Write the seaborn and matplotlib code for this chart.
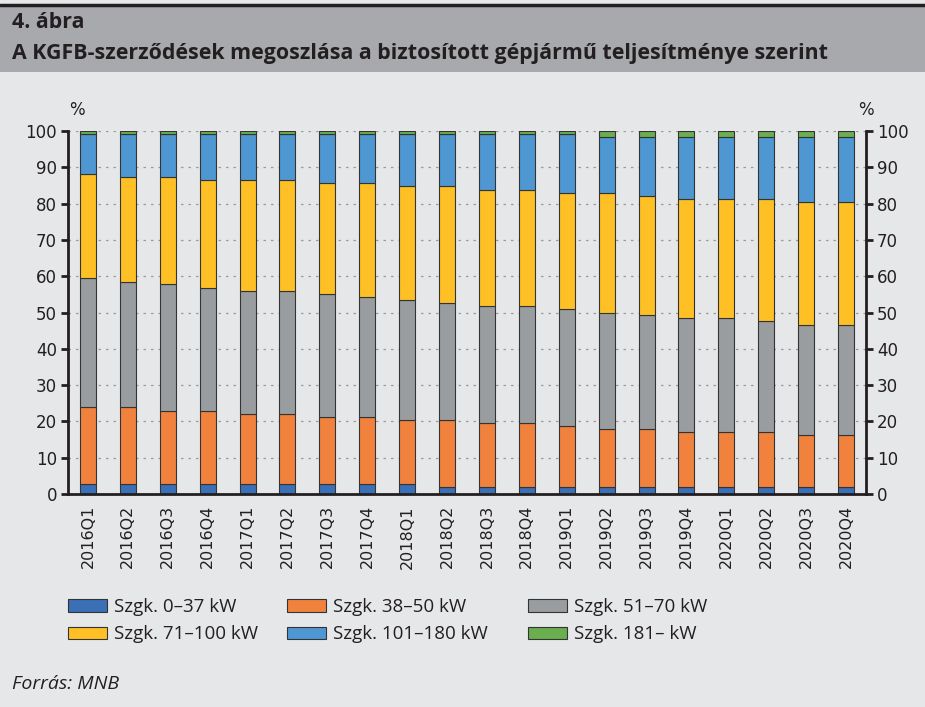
import numpy as np
import pandas as pd
import matplotlib
matplotlib.use("Agg")
import matplotlib.pyplot as plt
import seaborn as sns
from matplotlib.patches import Patch, Rectangle
from matplotlib.lines import Line2D

# Adatok (százalék)
quarters = ["2016Q1", "2016Q2", "2016Q3", "2016Q4", "2017Q1", "2017Q2", "2017Q3",
            "2017Q4", "2018Q1", "2018Q2", "2018Q3", "2018Q4", "2019Q1", "2019Q2",
            "2019Q3", "2019Q4", "2020Q1", "2020Q2", "2020Q3", "2020Q4"]
kw_0_37 = [2.7, 2.7, 2.7, 2.7, 2.7, 2.7, 2.7, 2.7, 2.7, 1.8,
           1.8, 1.8, 1.8, 1.8, 1.8, 1.8, 1.8, 1.8, 1.8, 1.8]
kw_38_50 = [21.2, 21.2, 20.3, 20.3, 19.4, 19.4, 18.5, 18.5, 17.7, 18.6,
            17.8, 17.8, 16.9, 16.0, 16.0, 15.2, 15.2, 15.2, 14.4, 14.4]
kw_51_70 = [35.5, 34.6, 34.8, 33.7, 33.7, 33.7, 33.9, 33.0, 33.0, 32.2,
            32.1, 32.1, 32.2, 32.2, 31.4, 31.4, 31.4, 30.6, 30.4, 30.4]
kw_71_100 = [28.8, 28.7, 29.4, 29.7, 30.6, 30.6, 30.5, 31.4, 31.4, 32.2,
             32.1, 32.1, 32.1, 33.0, 32.9, 32.9, 32.9, 33.7, 33.8, 33.8]
kw_101_180 = [10.9, 11.9, 11.9, 12.7, 12.7, 12.7, 13.5, 13.5, 14.3, 14.3,
              15.3, 15.3, 16.1, 15.3, 16.2, 17.0, 17.0, 17.0, 17.9, 17.9]
kw_181 = [0.9, 0.9, 0.9, 0.9, 0.9, 0.9, 0.9, 0.9, 0.9, 0.9,
          0.9, 0.9, 0.9, 1.7, 1.7, 1.7, 1.7, 1.7, 1.7, 1.7]

series = [
    ("Szgk. 0–37 kW", kw_0_37, "#3b6fb6"),
    ("Szgk. 38–50 kW", kw_38_50, "#f0823d"),
    ("Szgk. 51–70 kW", kw_51_70, "#9a9d9f"),
    ("Szgk. 71–100 kW", kw_71_100, "#fec025"),
    ("Szgk. 101–180 kW", kw_101_180, "#4f97d2"),
    ("Szgk. 181– kW", kw_181, "#6aae4f"),
]

bg = "#e6e7e8"
txt = "#231f20"

sns.set_style("white")
plt.rcParams['font.family'] = ['DejaVu Sans']

fig = plt.figure(figsize=(9.25, 7.07), dpi=100, facecolor=bg)

# Fejléc sáv
fig.add_artist(Rectangle((0, 1 - 72 / 707), 1, 66 / 707, transform=fig.transFigure,
                         facecolor="#a7a9ac", edgecolor="none"))
fig.add_artist(Line2D([0, 1], [1 - 5 / 707, 1 - 5 / 707], transform=fig.transFigure,
                      color="#231f20", lw=2.5))
fig.text(12 / 925, 1 - 23 / 707, "4. ábra", fontsize=15.4, fontweight="bold",
         family="Open Sans", color=txt, va="center")
fig.text(12 / 925, 1 - 53 / 707,
         "A KGFB-szerződések megoszlása a biztosított gépjármű teljesítménye szerint",
         fontsize=15.4, fontweight="bold", family="Open Sans", color=txt, va="center")

ax = fig.add_axes([68 / 925, 213 / 707, 798 / 925, 363 / 707])
ax.set_facecolor(bg)

bottom = np.zeros(len(quarters))
for name, vals, col in series:
    sns.barplot(x=quarters, y=vals, bottom=bottom, color=col, width=0.4,
                edgecolor="#333333", linewidth=0.8, errorbar=None, ax=ax,
                saturation=1)
    bottom = bottom + np.array(vals)

ax.set_ylim(0, 100)
ax.set_xlim(-0.5, len(quarters) - 0.5)
ax.set_yticks(np.arange(0, 101, 10))
ax.set_axisbelow(True)
ax.yaxis.grid(True, linestyle=(0, (2, 4)), color="#9a9a9a", linewidth=0.9)
ax.xaxis.grid(False)

for s in ["left", "right", "bottom"]:
    ax.spines[s].set_visible(True)
    ax.spines[s].set_color(txt)
    ax.spines[s].set_linewidth(2)
ax.spines["top"].set_visible(False)

ax.tick_params(axis="y", left=True, right=True, labelleft=True, labelright=True,
               direction="out", length=5, width=2, color=txt, labelsize=12,
               labelcolor=txt, pad=3)
ax.set_xticks(range(len(quarters)))
ax.set_xticklabels(quarters, rotation=90)
ax.tick_params(axis="x", which="major", length=0, labelsize=11.5, labelcolor=txt, pad=8)
ax.set_xticks(np.arange(-0.5, len(quarters) + 0.5, 1), minor=True)
ax.tick_params(axis="x", which="minor", length=5, width=2, color=txt, direction="out")
ax.set_xlabel("")
ax.set_ylabel("")

fig.text(77 / 925, 1 - 110 / 707, "%", fontsize=12, color=txt, ha="center", va="center")
fig.text(866 / 925, 1 - 110 / 707, "%", fontsize=12, color=txt, ha="center", va="center")

# Jelmagyarázat: három oszlop, egyenlő oszlopszélességgel
handles = [Patch(facecolor=c, edgecolor="#333333", linewidth=0.8, label=n) for n, _, c in series]
col_x = [68, 287, 528]
for j, x0 in enumerate(col_x):
    pair = [handles[j], handles[j + 3]]
    fig.legend(pair, [h.get_label() for h in pair],
               loc="upper left", bbox_to_anchor=(x0 / 925, 1 - 598 / 707), ncol=1,
               frameon=False, prop={"family": "Open Sans", "size": 13.5},
               handlelength=2.1, handleheight=0.65, labelspacing=0.5,
               handletextpad=0.35, borderpad=0, borderaxespad=0, labelcolor=txt)

fig.text(12 / 925, 1 - 684 / 707, "Forrás: MNB", fontsize=14, style="italic",
         family="Open Sans", color=txt, va="center")

fig.savefig("out.png", dpi=100, facecolor=bg)
